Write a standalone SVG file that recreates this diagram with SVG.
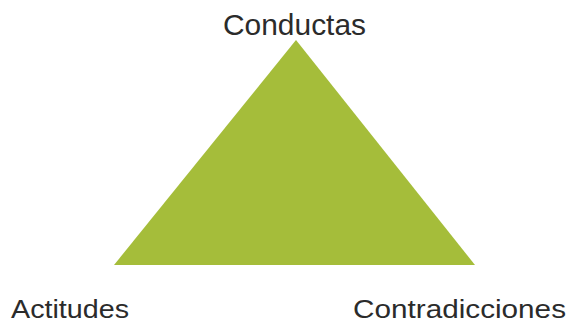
<svg xmlns="http://www.w3.org/2000/svg" width="570" height="324" viewBox="0 0 570 324">
<style>
.lbl{font-family:"Liberation Sans",Arial,sans-serif;fill:#2b2b2b;}
</style>
<rect width="570" height="324" fill="#ffffff"/>
<g id="triangle">
<polygon points="296,40 114,265 475,265" fill="#A5BD3A"/>
</g>
<g id="conductas">
<text class="lbl" x="223" y="35" font-size="29" textLength="143" lengthAdjust="spacingAndGlyphs">Conductas</text>
</g>
<g id="actitudes">
<text class="lbl" x="11" y="318" font-size="26" textLength="118" lengthAdjust="spacingAndGlyphs">Actitudes</text>
</g>
<g id="contradicciones">
<text class="lbl" x="353" y="318" font-size="26" textLength="213" lengthAdjust="spacingAndGlyphs">Contradicciones</text>
</g>
</svg>
